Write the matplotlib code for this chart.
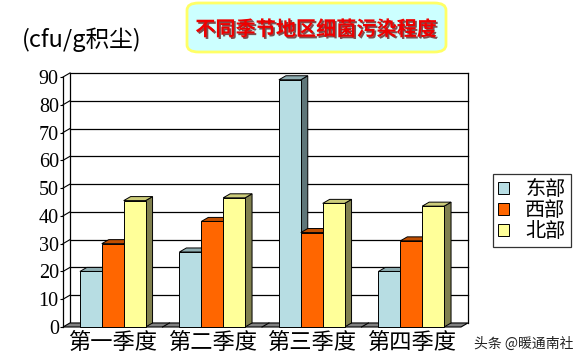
import matplotlib
matplotlib.use('Agg')
import matplotlib.pyplot as plt
from matplotlib.patches import Polygon, FancyBboxPatch, Patch
import matplotlib.patheffects as pe

plt.rcParams['font.family'] = ['Noto Sans CJK SC', 'DejaVu Sans']

quarters = ['第一季度', '第二季度', '第三季度', '第四季度']
regions = ['东部', '西部', '北部']
east = [20, 27, 89, 20]
west = [30, 38, 34, 31]
north = [45.5, 46.5, 44.5, 43.5]
series = [east, west, north]

# front, top, side colours of each series
face = ['#B7DDE3', '#FF6600', '#FFFF99']
top = ['#8FAEB2', '#C04E00', '#CCCC7A']
side = ['#5F7679', '#8A3800', '#80804E']

W, H = 583, 359
fig = plt.figure(figsize=(W / 100, H / 100), dpi=100)
fig.patch.set_facecolor('white')
ax = fig.add_axes([63 / W, 32 / H, 398 / W, 250 / H])
ax.set_xlim(-0.5, 3.5)
ax.set_ylim(0, 90)
for s in ax.spines.values():
    s.set_visible(False)
ax.patch.set_alpha(0)

dx, dy = 0.07, 1.45  # depth offset of the 3d look
bw = 0.22

# walls and floor
ax.add_patch(Polygon([(-0.5, 0), (3.5, 0), (3.5 + dx, dy), (-0.5 + dx, dy)],
                     closed=True, fc='#808080', ec='black', lw=0.8, clip_on=False, zorder=1))
for b in [0.5, 1.5, 2.5]:
    ax.plot([b, b + dx], [0, dy], color='black', lw=0.8, clip_on=False, zorder=1)
for v in range(10, 100, 10):
    ax.plot([-0.5 + dx, 3.5 + dx], [v + dy, v + dy], color='black', lw=0.9, clip_on=False, zorder=0)
    ax.plot([-0.5, -0.5 + dx], [v, v + dy], color='black', lw=0.8, clip_on=False, zorder=0)
ax.plot([-0.5 + dx, -0.5 + dx], [dy, 90 + dy], color='black', lw=0.9, clip_on=False, zorder=0)
ax.plot([3.5 + dx, 3.5 + dx], [dy, 90 + dy], color='black', lw=0.9, clip_on=False, zorder=0)
ax.plot([-0.5, -0.5], [0, 90], color='black', lw=0.9, clip_on=False, zorder=0)

# bars
z = 2
for i in range(len(quarters)):
    for k, vals in enumerate(series):
        x0 = i + (k - 1) * bw - bw / 2
        x1 = x0 + bw
        h = vals[i]
        ax.add_patch(Polygon([(x1, 0), (x1 + dx, dy), (x1 + dx, h + dy), (x1, h)],
                             closed=True, fc=side[k], ec='black', lw=0.7, clip_on=False, zorder=z))
        ax.add_patch(Polygon([(x0, h), (x1, h), (x1 + dx, h + dy), (x0 + dx, h + dy)],
                             closed=True, fc=top[k], ec='black', lw=0.7, clip_on=False, zorder=z))
        ax.bar(x0, h, width=bw, align='edge', color=face[k], edgecolor='black',
               linewidth=0.7, clip_on=False, zorder=z + 0.5)
        z += 1

ax.set_yticks(range(0, 100, 10))
ax.set_yticklabels([str(v) for v in range(0, 100, 10)],
                   fontfamily=['Liberation Serif', 'DejaVu Serif'], fontsize=14.5)
ax.tick_params(axis='y', length=2, pad=1, width=0.8)
ax.set_xticks(range(len(quarters)))
ax.set_xticklabels(quarters, fontsize=16)
ax.tick_params(axis='x', length=0, pad=3)

# legend
handles = [Patch(facecolor=face[k], edgecolor='black', linewidth=0.7) for k in range(3)]
leg = ax.legend(handles, regions, loc='upper left',
                bbox_to_anchor=(493 / W, 1 - 174 / H), bbox_transform=fig.transFigure,
                fontsize=14.5, frameon=True, fancybox=False, edgecolor='black',
                handlelength=0.55, handleheight=0.55, handletextpad=0.8,
                labelspacing=0.0, borderpad=0.25, borderaxespad=0)
leg.get_frame().set_linewidth(0.9)

# title box
box = FancyBboxPatch((187 / W, 1 - 52 / H), 259 / W, 49 / H,
                     boxstyle='round,pad=0,rounding_size=0.02',
                     transform=fig.transFigure, fc='#CCFFFF', ec='#FFFF66', lw=2)
fig.patches.append(box)
fig.text(316 / W, 1 - 29 / H, '不同季节地区细菌污染程度', ha='center', va='center',
         fontsize=14.5, fontweight='bold', color='#EE0000',
         path_effects=[pe.withSimplePatchShadow(offset=(1.2, -1.2), shadow_rgbFace='#600000', alpha=0.7)])

fig.text(22 / W, 1 - 40 / H, '(cfu/g积尘)', ha='left', va='center', fontsize=17, color='black')
fig.text(573 / W, 1 - 344 / H, '头条 @暖通南社', ha='right', va='center', fontsize=10, color='#222222')

fig.savefig('out.png', dpi=100)
